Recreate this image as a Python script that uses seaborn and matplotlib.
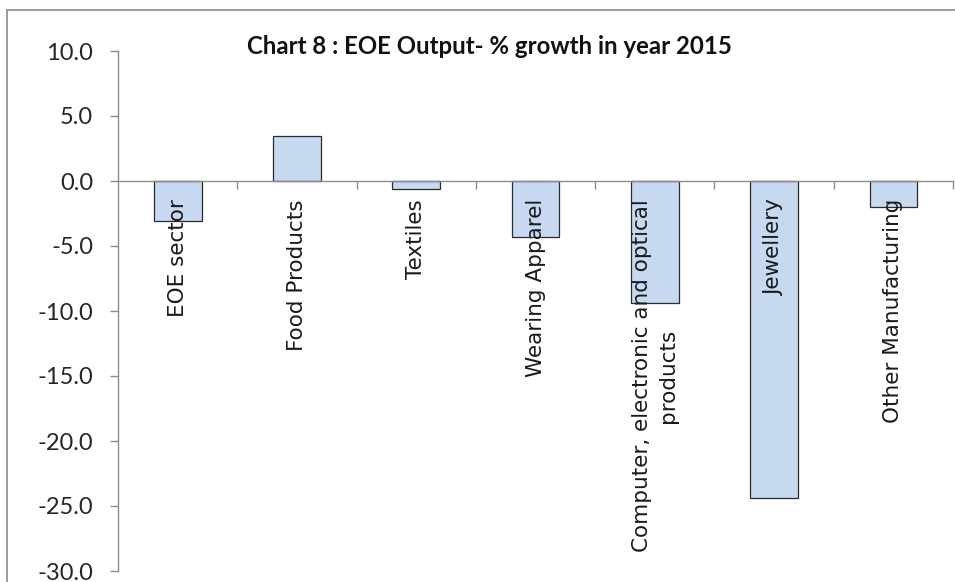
import matplotlib
matplotlib.use("Agg")
import matplotlib.pyplot as plt
from matplotlib.patches import Rectangle
from matplotlib.ticker import FixedLocator
import seaborn as sns
import pandas as pd

categories = [
    "EOE sector",
    "Food Products",
    "Textiles",
    "Wearing Apparel",
    "Computer, electronic and optical\nproducts",
    "Jewellery",
    "Other Manufacturing",
]
growth = [-3.1, 3.5, -0.6, -4.3, -9.4, -24.4, -2.0]
y_ticks = [10, 5, 0, -5, -10, -15, -20, -25, -30]
title = "Chart 8 : EOE Output- % growth in year 2015"

df = pd.DataFrame({"sector": categories, "growth": growth})

sns.set_style("white")
plt.rcParams["font.family"] = ["DejaVu Sans"]

W, H = 955, 582
fig = plt.figure(figsize=(W / 100, H / 100), dpi=100)
fig.patch.set_facecolor("white")

# axes placed in pixel terms: y axis at x=118, +10 at y=51, -30 at y=571
ax = fig.add_axes([118 / W, 1 - 571 / H, (953 - 118) / W, (571 - 51) / H])

sns.barplot(data=df, x="sector", y="growth", color="#C6D9F1", width=0.4,
            edgecolor="#2b2b2b", linewidth=0.9, saturation=1, ax=ax)

ax.set_xlim(-0.5, 6.5)
ax.set_ylim(-30, 10)
ax.set_xlabel("")
ax.set_ylabel("")
# category labels sit on top of the bars
ax.set_axisbelow(False)

grey = "#8c8c8c"
for s in ["top", "right"]:
    ax.spines[s].set_visible(False)
ax.spines["left"].set_color(grey)
ax.spines["left"].set_linewidth(1.0)
ax.spines["bottom"].set_position(("data", 0))
ax.spines["bottom"].set_color(grey)
ax.spines["bottom"].set_linewidth(1.0)

ax.set_yticks(y_ticks)
ax.set_yticklabels([f"{v:.1f}" for v in y_ticks], fontsize=17,
                   family=["Lato", "DejaVu Sans"], color="#262626")
ax.tick_params(axis="y", direction="out", length=6, width=1.0, color=grey,
               pad=12, left=True)

ax.set_xticks(range(len(categories)))
ax.set_xticklabels(categories, rotation=90, va="top", ha="center",
                   multialignment="center", fontsize=15.5, color="#1a1a1a",
                   linespacing=1.4)
ax.xaxis.set_minor_locator(FixedLocator([i + 0.5 for i in range(len(categories))]))
ax.tick_params(axis="x", which="major", length=0, pad=13)
ax.tick_params(axis="x", which="minor", direction="out", length=6, width=1.0,
               color=grey, bottom=True)

fig.text(489 / W, 1 - 47 / H, title, ha="center", va="center", fontsize=17.3,
         fontweight="bold", family=["Lato", "DejaVu Sans"], color="#111111")

# chart frame
fig.patches.append(Rectangle((7 / W, -0.05), 1.1, 1 - 10 / H + 0.05,
                             transform=fig.transFigure, fill=False,
                             edgecolor="#8a8a8a", linewidth=1.2, zorder=0))

fig.savefig("out.png", dpi=100, facecolor="white")
